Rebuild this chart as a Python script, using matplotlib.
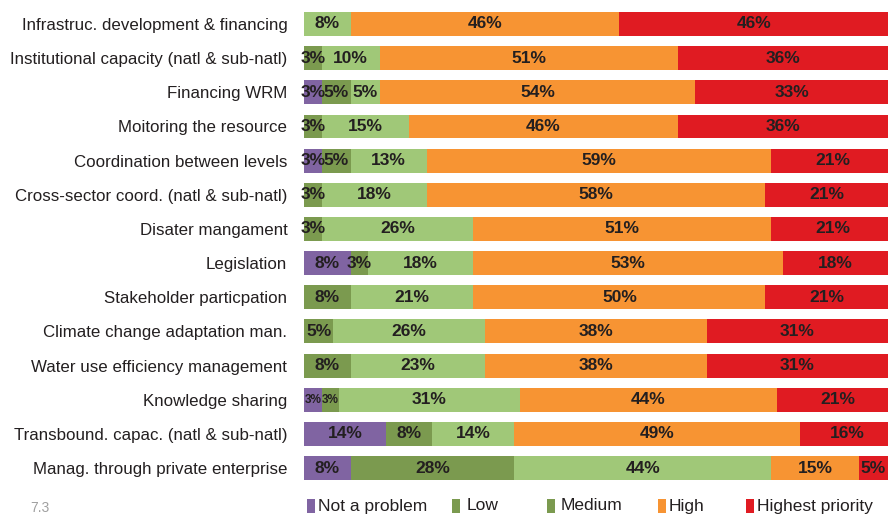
import matplotlib
matplotlib.use("Agg")
import matplotlib.pyplot as plt
from matplotlib.patches import Rectangle

plt.rcParams['font.family'] = ['Liberation Sans', 'DejaVu Sans']

categories = [
    "Infrastruc. development & financing",
    "Institutional capacity (natl & sub-natl)",
    "Financing WRM",
    "Moitoring the resource",
    "Coordination between levels",
    "Cross-sector coord. (natl & sub-natl)",
    "Disater mangament",
    "Legislation",
    "Stakeholder particpation",
    "Climate change adaptation man.",
    "Water use efficiency management",
    "Knowledge sharing",
    "Transbound. capac. (natl & sub-natl)",
    "Manag. through private enterprise",
]
not_a_problem = [0, 0, 3, 0, 3, 0, 0, 8, 0, 0, 0, 3, 14, 8]
low = [0, 3, 5, 3, 5, 3, 3, 3, 8, 5, 8, 3, 8, 28]
medium = [8, 10, 5, 15, 13, 18, 26, 18, 21, 26, 23, 31, 14, 44]
high = [46, 51, 54, 46, 59, 58, 51, 53, 50, 38, 38, 44, 49, 15]
highest = [46, 36, 33, 36, 21, 21, 21, 18, 21, 31, 31, 21, 16, 5]

series = [
    ("Not a problem", not_a_problem, "#8064a2"),
    ("Low", low, "#7b9a4f"),
    ("Medium", medium, "#a0c878"),
    ("High", high, "#f79433"),
    ("Highest priority", highest, "#e01b22"),
]

W, H = 888, 516
fig = plt.figure(figsize=(W / 100, H / 100), dpi=100)
ax = fig.add_axes([304 / W, 0.0599, 1 - 304 / W, 0.9267])

y = list(range(len(categories)))
left = [0] * len(categories)
for name, vals, col in series:
    ax.barh(y, vals, left=left, height=0.7, color=col, linewidth=0)
    for i, v in enumerate(vals):
        if v > 0:
            fs = 8.5 if (categories[i] == "Knowledge sharing" and v <= 3) else 12.5
            ax.text(left[i] + v / 2, i, f"{v}%", ha='center', va='center',
                    fontsize=fs, fontweight='bold', color='#231f20')
    left = [l + v for l, v in zip(left, vals)]

ax.set_xlim(0, 100)
ax.set_ylim(len(categories) - 0.5, -0.5)
ax.set_yticks(y)
ax.set_yticklabels(categories, fontsize=12.2, color='#231f20')
ax.tick_params(axis='y', length=0, pad=12)
ax.set_xticks([])
for s in ax.spines.values():
    s.set_visible(False)

# legend drawn by hand; Low and Medium share the darker green swatch
legend_items = [
    ("Not a problem", "#8064a2", 307, 318),
    ("Low", "#7b9a4f", 452, 467),
    ("Medium", "#7b9a4f", 547, 561),
    ("High", "#f79433", 658, 669),
    ("Highest priority", "#e01b22", 746, 757),
]
ly = 1 - 506 / H
for label, col, x0, xt in legend_items:
    fig.patches.append(Rectangle((x0 / W, ly - 7 / H), 8 / W, 14 / H,
                                 transform=fig.transFigure, color=col, linewidth=0))
    fig.text(xt / W, ly, label, fontsize=12.5, color='#231f20', va='center')

fig.text(30 / W, 1 - 508 / H, "7.3", fontsize=10, color='#a0a0a0', va='center')

fig.savefig("out.png", dpi=100)
